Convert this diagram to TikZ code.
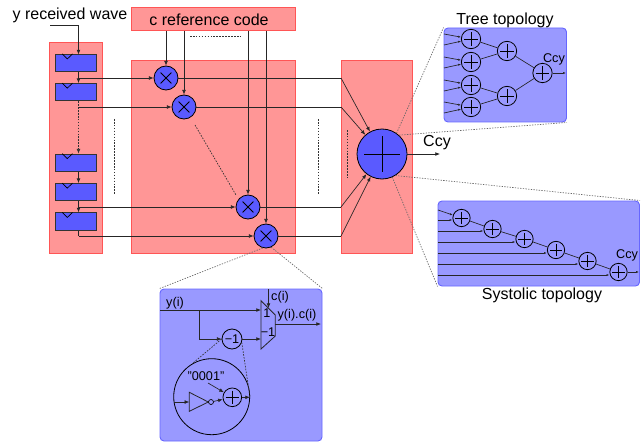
\documentclass[tikz,border=0pt]{standalone}
\usepackage{fontspec}
\setmainfont{Liberation Sans}
\usetikzlibrary{arrows,arrows.meta,fit,calc}
\definecolor{redfill}{RGB}{255,150,150}
\definecolor{redline}{RGB}{255,85,85}
\definecolor{bluefill}{RGB}{153,153,255}
\definecolor{blueline}{RGB}{102,102,255}
\definecolor{bluenode}{RGB}{90,90,255}
\tikzset
{
	redbox/.style = {rectangle, draw=redline, fill=redfill, inner sep=0pt, line width=0.7pt},
	bluebox/.style = {rectangle, draw=blueline, fill=bluefill, inner sep=0pt, rounded corners=3pt, line width=0.7pt},
	regbox/.style = {rectangle, draw=black!80, fill=bluenode, inner sep=0pt, minimum width=30.5pt, minimum height=13pt, line width=0.6pt},
	addnode/.style = {circle, draw=black, inner sep=0pt, minimum size=#1, line width=0.6pt, path picture={
		\draw[line width=0.6pt] ($(path picture bounding box.center)!0.72!(path picture bounding box.north)$) -- ($(path picture bounding box.center)!0.72!(path picture bounding box.south)$);
		\draw[line width=0.6pt] ($(path picture bounding box.center)!0.72!(path picture bounding box.west)$) -- ($(path picture bounding box.center)!0.72!(path picture bounding box.east)$);
	}},
	multnode/.style = {circle, draw=black, fill=bluenode, inner sep=0pt, minimum size=18pt, line width=0.6pt, path picture={
		\draw[line width=0.6pt] ($(path picture bounding box.center)!0.45!(path picture bounding box.north west)$) -- ($(path picture bounding box.center)!0.45!(path picture bounding box.south east)$);
		\draw[line width=0.6pt] ($(path picture bounding box.center)!0.45!(path picture bounding box.north east)$) -- ($(path picture bounding box.center)!0.45!(path picture bounding box.south west)$);
	}},
	biglabel/.style = {inner sep=0pt, font=\fontsize{12}{14}\selectfont},
	smalllabel/.style = {inner sep=0pt, font=\fontsize{9.5}{11}\selectfont},
	conn/.style = {-{Latex[length=3.5pt,width=2.8pt]}, draw=black!85, line width=0.5pt},
	smallconn/.style = {-{Latex[length=2.2pt,width=1.6pt]}, draw=black!85, line width=0.5pt},
	wire/.style = {draw=black!85, line width=0.5pt},
	dotline/.style = {draw=black!80, line width=0.5pt, dash pattern=on 1.2pt off 1pt},
	zoomline/.style = {draw=black!60, line width=0.5pt, dash pattern=on 1pt off 1pt}
}
\begin{document}
\begin{tikzpicture}[x=0.75pt,y=-0.75pt]
	\useasboundingbox (0,0) rectangle (641,442);
	\node[redbox,fit={(49.5,42.5)(102,253)}] (regblock) {};
	\node[redbox,fit={(131,7.5)(295,30.5)}] (codeblock) {};
	\node[redbox,fit={(131,60.5)(295,253)}] (multblock) {};
	\node[redbox,fit={(341,60.5)(412,253)}] (sumblock) {};
	\node[bluebox,fit={(444,28)(566.5,122)}] (treebox) {};
	\node[bluebox,fit={(438,201)(639.5,286)}] (sysbox) {};
	\node[bluebox,fit={(160,289)(322,441)}] (multbox) {};

	\node[biglabel] (ylabel) at (70,15) {y received wave};
	\node[biglabel] (clabel) at (209,20) {c reference code};
	\node[biglabel] (cculabel) at (437,143) {Ccy};
	\node[biglabel] (treelabel) at (505,20) {Tree topology};
	\node[biglabel] (syslabel) at (542,295) {Systolic topology};

	\foreach \n/\y in {a/63,b/92.2,c/162.7,d/192.2,e/221.5}
	{
		\node[regbox] (reg\n) at (76,\y) {};
		\draw[line width=0.5pt] ($(reg\n.north)+(-13.7,0)$) -- ($(reg\n.north)+(-8.7,5)$) -- ($(reg\n.north)+(-3.5,0)$);
	}
	\node[multnode] (multa) at (166,78) {};
	\node[multnode] (multb) at (184,107) {};
	\node[multnode] (multc) at (248,207) {};
	\node[multnode] (multd) at (266,236) {};
	\node[addnode=37.5pt,fill=bluenode] (sumnode) at (382,154) {};

	\coordinate (ystart) at (50,25);
	\coordinate (ybend) at (78.5,25);
	\coordinate (regin) at (78.5,54.5);
	\draw[conn] (ystart) -- (ybend) -- (regin);
	\foreach \a/\b in {a/b,c/d,d/e}
		\draw[conn] (78.5,0 |- reg\a.south) -- (78.5,0 |- reg\b.north);
	\draw[conn,dotline] (78.5,0 |- regb.south) -- (78.5,0 |- regc.north);

	\foreach \m/\y in {a/78,b/107,c/207,d/236}
	{
		\coordinate (tap\m) at (78.5,\y);
		\coordinate (in\m) at (341,\y);
		\coordinate (top\m) at (mult\m |- codeblock.south);
		\draw[conn] (tap\m) -- (mult\m);
		\draw[conn] (top\m) -- (mult\m);
		\draw[wire] (mult\m) -- (in\m);
		\draw[conn] (in\m) -- (sumnode);
	}
	\draw[wire] (78.5,0 |- rege.south) -- (tapd);
	\coordinate (ccyend) at (440,154);
	\draw[conn] (sumnode) -- (ccyend);

	\draw[dotline] (190,36.5) -- (242,36.5);
	\draw[dotline] (114,119) -- (114,195);
	\draw[dotline] (318,119) -- (318,195);
	\draw[dotline] (347.5,130) -- (347.5,177);
	\coordinate (chaina) at (195,125);
	\coordinate (chainb) at (236,195);
	\draw[dotline] (chaina) -- (chainb);

	\draw[zoomline] (sumnode.55) -- (treebox.north west);
	\draw[zoomline] (sumnode.48) -- (treebox.south east);
	\draw[zoomline] (sumnode.-58) -- (sysbox.north east);
	\draw[zoomline] (sumnode.-66) -- (sysbox.south west);
	\draw[zoomline] (multd.-105) -- (multbox.north west);
	\draw[zoomline] (multd.-65) -- (multbox.north east);

	\foreach \n/\y in {a/39,b/62,c/85,d/107}
	{
		\node[addnode=14.5pt] (treea\n) at (471,\y) {};
		\coordinate (treeup\n) at (444,\y-5);
		\coordinate (treedn\n) at (444,\y+6);
		\draw[smallconn] (treeup\n) -- (treea\n);
		\draw[smallconn] (treedn\n) -- (treea\n);
	}
	\node[addnode=14.5pt] (treeba) at (507,51) {};
	\node[addnode=14.5pt] (treebb) at (507,96) {};
	\node[addnode=14.5pt] (treeout) at (542.5,73) {};
	\draw[wire] (treeaa) -- (treeba);
	\draw[wire] (treeab) -- (treeba);
	\draw[wire] (treeac) -- (treebb);
	\draw[wire] (treead) -- (treebb);
	\draw[wire] (treeba) -- (treeout);
	\draw[wire] (treebb) -- (treeout);
	\coordinate (treeend) at (566,73);
	\draw[smallconn] (treeout) -- (treeend);
	\node[smalllabel] (treeccy) at (554,59) {Ccy};

	\foreach \n/\x/\y/\l in {a/461.5/218/220,b/492.5/229/231,c/524.5/239/242,d/556/250/253,e/587.5/261/264,f/618.5/272/275}
	{
		\node[addnode=13pt] (sys\n) at (\x,\y) {};
		\coordinate (sysin\n) at (438,\l);
		\draw[smallconn] (sysin\n) -- (sys\n.west |- sysin\n);
	}
	\coordinate (sysstart) at (438,210);
	\draw[smallconn] (sysstart) -- (sysa);
	\foreach \a/\b in {a/b,b/c,c/d,d/e,e/f}
		\draw[wire] (sys\a) -- (sys\b);
	\coordinate (sysend) at (639,272);
	\draw[smallconn] (sysf) -- (sysend);
	\node[smalllabel] (sysccy) at (627,255) {Ccy};

	\node[circle,draw=black,inner sep=0pt,minimum size=15pt,font=\fontsize{9.5}{11}\selectfont,line width=0.6pt] (negnode) at (232,339) {−1};
	\coordinate (muxa) at (261,300.7);
	\coordinate (muxb) at (275.3,315);
	\coordinate (muxc) at (275.3,336);
	\coordinate (muxd) at (261,349);
	\draw[line width=0.6pt,draw=black!85] (muxa) -- (muxb) -- (muxc) -- (muxd) -- cycle;
	\node[smalllabel] (muxone) at (267,313) {1};
	\node[smalllabel] (muxneg) at (268,332) {−1};
	\node[smalllabel] (ylab) at (175,303) {y(i)};
	\node[smalllabel] (clab) at (280,297) {c(i)};
	\node[smalllabel] (yclab) at (297,315) {y(i).c(i)};
	\coordinate (yin) at (160,310);
	\coordinate (yout) at (261,310);
	\coordinate (ybranch) at (199,310);
	\coordinate (ybelow) at (199,339);
	\coordinate (ctop) at (268.5,289);
	\coordinate (cbot) at (268.5,308);
	\coordinate (muxout) at (275.3,324);
	\coordinate (muxend) at (321,324);
	\coordinate (negout) at (261,339);
	\draw[conn] (yin) -- (yout);
	\draw[conn] (ybranch) -- (ybelow) -- (negnode);
	\draw[conn] (negnode) -- (negout);
	\draw[conn] (ctop) -- (cbot);
	\draw[conn] (muxout) -- (muxend);

	\node[circle,draw=black,inner sep=0pt,minimum size=57pt,line width=0.6pt] (lensnode) at (211.7,396.7) {};
	\node[smalllabel] (onelab) at (206,375.7) {"0001"};
	\node[addnode=14pt] (lensadd) at (232.3,397.3) {};
	\coordinate (inva) at (189.3,392.3);
	\coordinate (invb) at (189.3,411.3);
	\coordinate (invc) at (208.3,402);
	\draw[line width=0.6pt,draw=black!85] (inva) -- (invb) -- (invc) -- cycle;
	\node[circle,draw=black,inner sep=0pt,minimum size=3.75pt,line width=0.5pt] (bubble) at (211,402) {};
	\coordinate (lensin) at (174,402);
	\coordinate (invin) at (189.3,402);
	\coordinate (onetail) at (208,383);
	\coordinate (lensout) at (250,397.3);
	\draw[conn] (lensin) -- (invin);
	\draw[conn] (bubble) -- (lensadd);
	\draw[conn] (onetail) -- (lensadd);
	\draw[conn] (lensadd) -- (lensout);
	\draw[dotline] (negnode.west) -- (lensnode.120);
	\draw[dotline] (negnode.-20) -- (lensout);
\end{tikzpicture}
\end{document}
